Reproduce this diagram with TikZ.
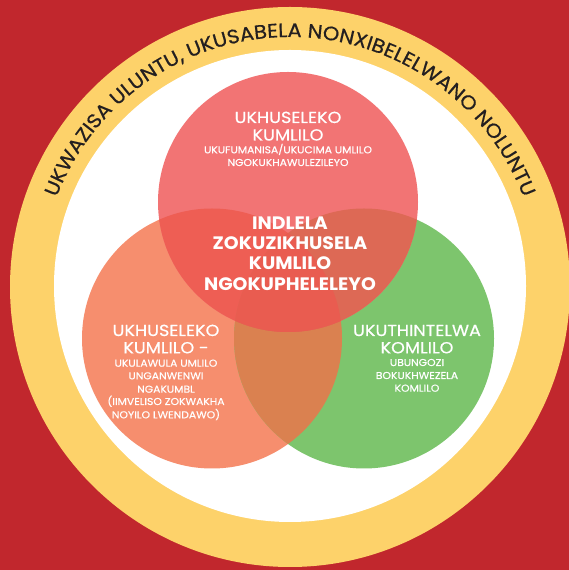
\documentclass[tikz,border=0pt]{standalone}
\usepackage{fontspec}
\setmainfont{Poppins}
\newfontfamily\medfont{Poppins}[FakeBold=0.5, FakeStretch=1.1]
\newfontfamily\subfont{Poppins}[FakeBold=0.4, FakeStretch=1.08]
\newfontfamily\ringfont{Poppins}[FakeBold=0.6, FakeStretch=1.08]
\newfontfamily\corefont{Poppins}[FakeStretch=1.05]
\usetikzlibrary{decorations.text}
\definecolor{bgred}{RGB}{193,39,45}
\definecolor{ringyellow}{RGB}{253,210,106}
\definecolor{toppink}{RGB}{242,116,116}
\definecolor{leftsalmon}{RGB}{246,142,110}
\definecolor{rightgreen}{RGB}{125,197,109}
\definecolor{tlred}{RGB}{238,94,84}
\definecolor{trred}{RGB}{221,105,85}
\definecolor{lrorange}{RGB}{218,129,80}
\definecolor{midred}{RGB}{233,92,80}
\definecolor{inkdark}{RGB}{35,31,32}
\begin{document}
\begin{tikzpicture}[x=1pt,y=1pt,
  title/.style={text=white, font=\medfont\fontsize{16}{16}\selectfont, anchor=base, inner sep=0pt},
  sub/.style={text=white, font=\subfont\fontsize{10}{10}\selectfont, anchor=base, inner sep=0pt},
  core/.style={text=white, font=\corefont\bfseries\fontsize{18}{18}\selectfont, anchor=base, inner sep=0pt}]
\useasboundingbox (0,0) rectangle (569,570);
\fill[bgred] (0,0) rectangle (569,570);
% outer ring and white disc
\coordinate (O) at (290,283);
\fill[ringyellow] (O) circle[radius=280];
\fill[white] (290,284) circle[radius=236];
% the three circles
\def\toppath{(288,368) circle[radius=130]}
\def\leftpath{(212,231.5) circle[radius=130]}
\def\rightpath{(364,231.5) circle[radius=130]}
\fill[leftsalmon] \leftpath;
\fill[rightgreen] \rightpath;
\fill[toppink] \toppath;
\begin{scope}
  \clip \leftpath;
  \fill[lrorange] \rightpath;
\end{scope}
\begin{scope}
  \clip \toppath;
  \fill[tlred] \leftpath;
\end{scope}
\begin{scope}
  \clip \toppath;
  \fill[trred] \rightpath;
\end{scope}
\begin{scope}
  \clip \toppath;
  \clip \leftpath;
  \fill[midred] \rightpath;
\end{scope}
% curved heading on the ring
\path[decorate, decoration={text along path, text align=center,
  text={|\ringfont\fontsize{19.5}{19.5}\selectfont\color{inkdark}|UKWAZISA ULUNTU, UKUSABELA NONXIBELELWANO NOLUNTU}}]
  (O) ++(178:250) arc[start angle=178, end angle=2, radius=250];
% top circle
\node[title] (t1) at (288,447) {UKHUSELEKO};
\node[title] (t2) at (288,429.5) {KUMLILO};
\node[sub] (t3) at (288,416.7) {UKUFUMANISA/UKUCIMA UMLILO};
\node[sub] (t4) at (288,404) {NGOKUKHAWULEZILEYO};
% centre
\node[core] (c1) at (290,340.7) {INDLELA};
\node[core] (c2) at (290,320.7) {ZOKUZIKHUSELA};
\node[core] (c3) at (290,300) {KUMLILO};
\node[core] (c4) at (290,279.5) {NGOKUPHELELEYO};
% left circle
\node[title] (l1) at (166,234) {UKHUSELEKO};
\node[title] (l2) at (166,216.7) {KUMLILO -};
\node[sub] (l3) at (166,203.3) {UKULAWULA UMLILO};
\node[sub] (l4) at (166,190.7) {UNGANWENWI};
\node[sub] (l5) at (166,177.3) {NGAKUMBL};
\node[sub] (l6) at (166,165) {(IIMVELISO ZOKWAKHA};
\node[sub] (l7) at (166,151.7) {NOYILO LWENDAWO)};
% right circle
\node[title] (r1) at (417,234) {UKUTHINTELWA};
\node[title] (r2) at (417,216.7) {KOMLILO};
\node[sub] (r3) at (417,204) {UBUNGOZI};
\node[sub] (r4) at (417,191) {BOKUKHWEZELA};
\node[sub] (r5) at (417,178.3) {KOMLILO};
\end{tikzpicture}
\end{document}
